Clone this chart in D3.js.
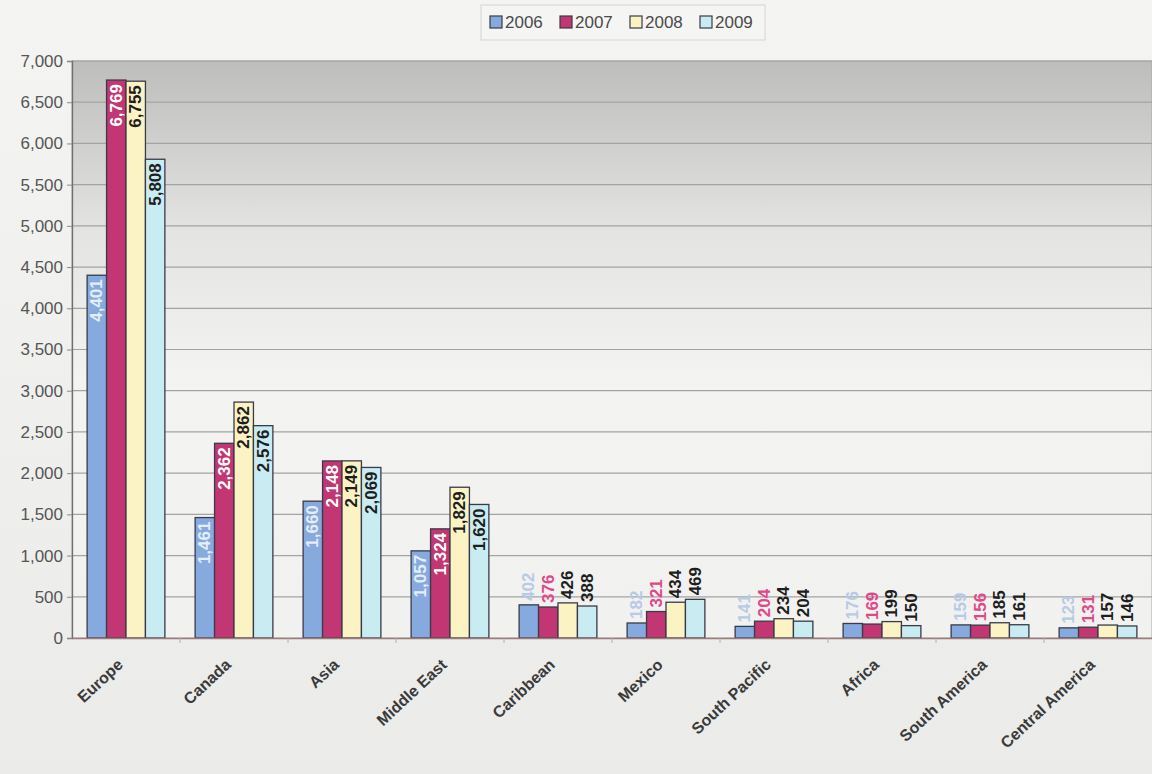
<!DOCTYPE html>
<html>
<head>
<meta charset="utf-8">
<script src="https://cdn.jsdelivr.net/npm/d3@7"></script>
<style>
  html, body { margin: 0; padding: 0; background: #eeeeec; }
  svg { display: block; }
</style>
</head>
<body>
<svg id="chart" width="1152" height="774"></svg>
<script>
// Destinations and yearly totals
const categories = ["Europe", "Canada", "Asia", "Middle East", "Caribbean", "Mexico",
                    "South Pacific", "Africa", "South America", "Central America"];
const years = ["2006", "2007", "2008", "2009"];
const v2006 = [4401, 1461, 1660, 1057, 402, 182, 141, 176, 159, 123];
const v2007 = [6769, 2362, 2148, 1324, 376, 321, 204, 169, 156, 131];
const v2008 = [6755, 2862, 2149, 1829, 426, 434, 234, 199, 185, 157];
const v2009 = [5808, 2576, 2069, 1620, 388, 469, 204, 150, 161, 146];
const yTicks = [0, 500, 1000, 1500, 2000, 2500, 3000, 3500, 4000, 4500, 5000, 5500, 6000, 6500, 7000];

const seriesValues = [v2006, v2007, v2008, v2009];
const fills = ["#86aade", "#c23673", "#fbf3c4", "#c8ecf1"];
const labelInside = ["#e4edf9", "#ffffff", "#1e1e1e", "#1e1e1e"];
const labelOutside = ["#b7cae6", "#e0488a", "#1e1e1e", "#1e1e1e"];

const svg = d3.select("#chart");
const W = 1152, H = 774;
const plot = { left: 72, right: 1152, top: 61, bottom: 638 };

const defs = svg.append("defs");
const bg = defs.append("linearGradient").attr("id", "pageBg").attr("x1", 0).attr("y1", 0).attr("x2", 0).attr("y2", 1);
bg.append("stop").attr("offset", "0%").attr("stop-color", "#f4f4f2");
bg.append("stop").attr("offset", "100%").attr("stop-color", "#ebebe9");
const pa = defs.append("linearGradient").attr("id", "plotBg").attr("x1", 0).attr("y1", 0).attr("x2", 0).attr("y2", 1);
pa.append("stop").attr("offset", "0%").attr("stop-color", "#bdbdbb");
pa.append("stop").attr("offset", "30%").attr("stop-color", "#e4e4e2");
pa.append("stop").attr("offset", "55%").attr("stop-color", "#f3f3f1");
pa.append("stop").attr("offset", "100%").attr("stop-color", "#f1f1ef");

svg.append("rect").attr("width", W).attr("height", H).attr("fill", "url(#pageBg)");

const x = d3.scaleBand().domain(categories).range([plot.left, plot.right])
  .paddingInner(0.28).paddingOuter(0.14);
const xs = d3.scaleBand().domain(years).range([0, x.bandwidth()]).padding(0);
const y = d3.scaleLinear().domain([0, 7000]).range([plot.bottom, plot.top]);

// plot area
svg.append("rect")
  .attr("x", plot.left).attr("y", plot.top)
  .attr("width", plot.right - plot.left).attr("height", plot.bottom - plot.top)
  .attr("fill", "url(#plotBg)").attr("stroke", "#a8a8a6").attr("stroke-width", 1);

// horizontal gridlines
svg.append("g").selectAll("line").data(yTicks.filter(d => d > 0)).join("line")
  .attr("x1", plot.left).attr("x2", plot.right)
  .attr("y1", d => y(d)).attr("y2", d => y(d))
  .attr("stroke", "#a3a3a1").attr("stroke-width", 1.2);

// y axis
const yAxis = svg.append("g").attr("transform", `translate(${plot.left},0)`)
  .call(d3.axisLeft(y).tickValues(yTicks).tickSize(5).tickPadding(4).tickFormat(d3.format(",")));
yAxis.select(".domain").attr("stroke", "#6f6f6d").attr("stroke-width", 1.3);
yAxis.selectAll(".tick line").attr("stroke", "#8a8a88");
yAxis.selectAll("text").attr("font-family", "Liberation Sans, Arial, sans-serif")
  .attr("font-size", 17).attr("fill", "#555555");

// bars
const rows = [];
categories.forEach((c, i) => years.forEach((yr, s) => rows.push({ c, yr, s, v: seriesValues[s][i] })));

const barG = svg.append("g");
barG.selectAll("rect").data(rows).join("rect")
  .attr("x", d => x(d.c) + xs(d.yr))
  .attr("y", d => y(d.v))
  .attr("width", xs.bandwidth())
  .attr("height", d => y(0) - y(d.v))
  .attr("fill", d => fills[d.s])
  .attr("stroke", "#3a3a48").attr("stroke-width", 1.3);

// value labels, rotated; inside the bar end when there is room, above it otherwise
const fmt = d3.format(",");
const fitsInside = d => y(0) - y(d.v) > 60;
barG.selectAll("text").data(rows).join("text")
  .attr("transform", d => {
    const cx = x(d.c) + xs(d.yr) + xs.bandwidth() / 2;
    const ty = fitsInside(d) ? y(d.v) + 4 : y(d.v) - 4;
    return `translate(${cx},${ty}) rotate(-90)`;
  })
  .attr("text-anchor", d => (fitsInside(d) ? "end" : "start"))
  .attr("dominant-baseline", "central")
  .attr("font-family", "Liberation Sans, Arial, sans-serif")
  .attr("font-weight", "bold").attr("font-size", 17)
  .attr("fill", d => (fitsInside(d) ? labelInside[d.s] : labelOutside[d.s]))
  .text(d => fmt(d.v));

// x axis
const xAxis = svg.append("g").attr("transform", `translate(0,${plot.bottom})`)
  .call(d3.axisBottom(x).tickSize(0).tickFormat(""));
xAxis.select(".domain").attr("stroke", "#9a7c7c").attr("stroke-width", 1.3);
// tick marks between categories
svg.append("g").selectAll("line").data(categories.slice(1)).join("line")
  .attr("x1", d => x(d) - x.step() * x.paddingInner() / 2)
  .attr("x2", d => x(d) - x.step() * x.paddingInner() / 2)
  .attr("y1", plot.bottom).attr("y2", plot.bottom + 5)
  .attr("stroke", "#b0b0ae");

svg.append("g").selectAll("text").data(categories).join("text")
  .attr("transform", d => `translate(${x(d) + x.bandwidth() / 2 - 2},${plot.bottom + 28}) rotate(-43)`)
  .attr("text-anchor", "end")
  .attr("font-family", "Liberation Sans, Arial, sans-serif")
  .attr("font-weight", "bold").attr("font-size", 16)
  .attr("fill", "#3a3a3a")
  .text(d => d);

// legend
const lg = svg.append("g").attr("transform", "translate(481,5)");
lg.append("rect").attr("width", 284).attr("height", 35)
  .attr("fill", "#f5f5f3").attr("stroke", "#d4d4d2");
const item = lg.selectAll("g").data(years).join("g")
  .attr("transform", (d, i) => `translate(${9 + i * 70},17)`);
item.append("rect").attr("x", 0).attr("y", -6).attr("width", 12).attr("height", 12)
  .attr("fill", (d, i) => fills[i]).attr("stroke", "#3a3a48").attr("stroke-width", 1.2);
item.append("text").attr("x", 15).attr("dy", "0.35em")
  .attr("font-family", "Liberation Sans, Arial, sans-serif")
  .attr("font-size", 17).attr("fill", "#4a4a4a")
  .text(d => d);
</script>
</body>
</html>
